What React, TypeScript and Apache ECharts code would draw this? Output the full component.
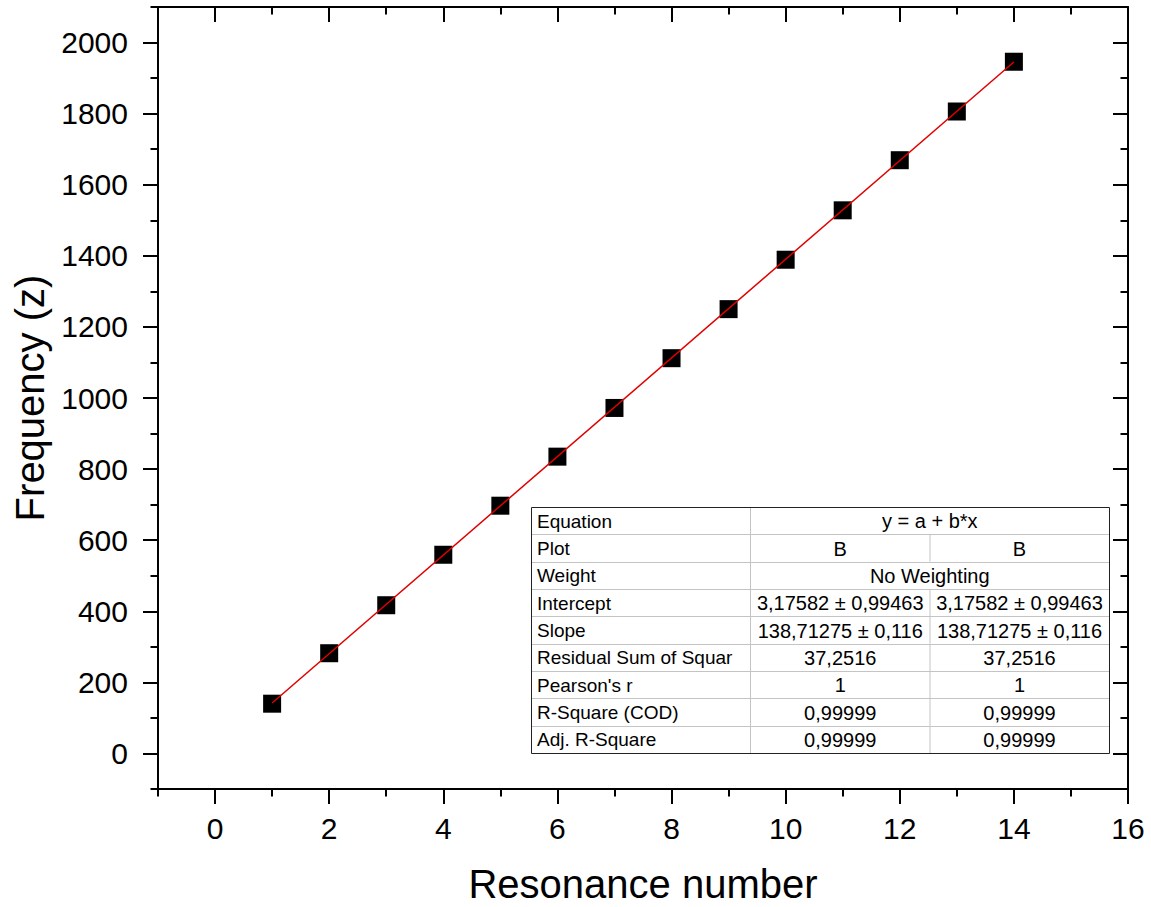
import React, { useEffect, useRef } from "react";
import * as echarts from "echarts";

const resonanceNumbers = [1, 2, 3, 4, 5, 6, 7, 8, 9, 10, 11, 12, 13, 14];
const frequencies = [140, 282, 417, 559, 697, 835, 972, 1112, 1250, 1389, 1528, 1669, 1806, 1946];
const fitLineX = [1, 14];
const fitLineY = [141.9, 1945.2];

const xMajorTicks = [0, 2, 4, 6, 8, 10, 12, 14, 16];
const xMinorTicks = [-1, 1, 3, 5, 7, 9, 11, 13, 15];
const yMajorTicks = [0, 200, 400, 600, 800, 1000, 1200, 1400, 1600, 1800, 2000];
const yMinorTicks = [-100, 100, 300, 500, 700, 900, 1100, 1300, 1500, 1700, 1900, 2100];

const tableLabels = [
  "Equation",
  "Plot",
  "Weight",
  "Intercept",
  "Slope",
  "Residual Sum of Squar",
  "Pearson's r",
  "R-Square (COD)",
  "Adj. R-Square",
];
const tableCol1 = [
  "y = a + b*x",
  "B",
  "No Weighting",
  "3,17582 ± 0,99463",
  "138,71275 ± 0,116",
  "37,2516",
  "1",
  "0,99999",
  "0,99999",
];
const tableCol2 = [
  null,
  "B",
  null,
  "3,17582 ± 0,99463",
  "138,71275 ± 0,116",
  "37,2516",
  "1",
  "0,99999",
  "0,99999",
];

const FONT = 'Arial, "Liberation Sans", sans-serif';

export default function App() {
  const ref = useRef<HTMLDivElement>(null);

  useEffect(() => {
    if (!ref.current) return;
    const chart = echarts.init(ref.current, null, { renderer: "svg" });

    const xBase = { type: "value", min: -1, max: 16, splitLine: { show: false } };
    const yBase = { type: "value", min: -100, max: 2100, splitLine: { show: false } };
    const lineStyle = { color: "#000", width: 2 };

    const mkAxis = (base: any, position: string, ticks: number[], inside: boolean, length: number, showLine: boolean, labels: boolean, extra: any = {}) => ({
      ...base,
      position,
      axisLine: { show: showLine, onZero: false, lineStyle },
      axisTick: { show: true, inside, length, lineStyle, customValues: ticks },
      axisLabel: labels
        ? {
            show: true,
            customValues: ticks,
            fontSize: 30,
            color: "#000",
            fontFamily: FONT,
            margin: position === "bottom" ? 24 : 30,
            formatter: (v: number) => String(v),
          }
        : { show: false },
      ...extra,
    });

    // table graphic
    const tLeft = 531, tTop = 507, tRight = 1109, tBottom = 753;
    const colX = [531, 750.5, 930, 1109];
    const rowH = (tBottom - tTop) / tableLabels.length;
    const labelFont = `19px ${FONT}`;
    const valueFont = `20px ${FONT}`;
    const children: any[] = [];
    children.push({ type: "rect", shape: { x: tLeft, y: tTop, width: tRight - tLeft, height: tBottom - tTop }, style: { fill: "#fff", stroke: null } });
    for (let i = 1; i < tableLabels.length; i++) {
      const y = Math.round(tTop + i * rowH) + 0.5;
      children.push({ type: "line", shape: { x1: tLeft, y1: y, x2: tRight, y2: y }, style: { stroke: "#c4c4c4", lineWidth: 1 } });
    }
    children.push({ type: "line", shape: { x1: colX[1], y1: tTop, x2: colX[1], y2: tBottom }, style: { stroke: "#c4c4c4", lineWidth: 1 } });
    tableLabels.forEach((lab, i) => {
      const cy = tTop + (i + 0.5) * rowH + 0.5;
      children.push({ type: "text", x: tLeft + 6, y: cy, style: { text: lab, font: labelFont, fill: "#000", verticalAlign: "middle", align: "left" } });
      if (tableCol2[i] === null) {
        children.push({ type: "text", x: (colX[1] + colX[3]) / 2, y: cy, style: { text: tableCol1[i], font: valueFont, fill: "#000", verticalAlign: "middle", align: "center" } });
      } else {
        children.push({ type: "line", shape: { x1: colX[2], y1: tTop + i * rowH, x2: colX[2], y2: tTop + (i + 1) * rowH }, style: { stroke: "#c4c4c4", lineWidth: 1 } });
        children.push({ type: "text", x: (colX[1] + colX[2]) / 2, y: cy, style: { text: tableCol1[i], font: valueFont, fill: "#000", verticalAlign: "middle", align: "center" } });
        children.push({ type: "text", x: (colX[2] + colX[3]) / 2, y: cy, style: { text: tableCol2[i], font: valueFont, fill: "#000", verticalAlign: "middle", align: "center" } });
      }
    });
    children.push({ type: "rect", shape: { x: tLeft + 0.5, y: tTop + 0.5, width: tRight - tLeft, height: tBottom - tTop }, style: { fill: "none", stroke: "#222", lineWidth: 1 } });

    chart.setOption({
      animation: false,
      backgroundColor: "#fff",
      grid: { left: 158, right: 23, top: 7, bottom: 118, containLabel: false, outerBoundsMode: "none" },
      xAxis: [
        mkAxis(xBase, "bottom", xMajorTicks, false, 15, true, true, {
          name: "Resonance number",
          nameLocation: "middle",
          nameGap: 75,
          nameTextStyle: { fontSize: 40, color: "#000", fontFamily: FONT },
        }),
        mkAxis(xBase, "bottom", xMinorTicks, false, 7.5, false, false),
        mkAxis(xBase, "top", xMajorTicks, true, 15, true, false),
        mkAxis(xBase, "top", xMinorTicks, true, 7.5, false, false),
      ],
      yAxis: [
        mkAxis(yBase, "left", yMajorTicks, false, 15, true, true, {
          name: "Frequency (z)",
          nameLocation: "middle",
          nameGap: 99,
          nameTextStyle: { fontSize: 40, color: "#000", fontFamily: FONT },
        }),
        mkAxis(yBase, "left", yMinorTicks, false, 7.5, false, false),
        mkAxis(yBase, "right", yMajorTicks, true, 15, true, false),
        mkAxis(yBase, "right", yMinorTicks, true, 7.5, false, false),
      ],
      series: [
        {
          type: "scatter",
          xAxisIndex: 0,
          yAxisIndex: 0,
          symbol: "rect",
          symbolSize: 18,
          itemStyle: { color: "#000", opacity: 1 },
          data: resonanceNumbers.map((x, i) => [x, frequencies[i]]),
          z: 2,
        },
        {
          type: "line",
          xAxisIndex: 0,
          yAxisIndex: 0,
          symbol: "none",
          lineStyle: { color: "#e00000", width: 1.5 },
          data: fitLineX.map((x, i) => [x, fitLineY[i]]),
          z: 3,
        },
      ],
      graphic: { elements: [{ type: "group", children, z: 10 }] },
    });

    return () => chart.dispose();
  }, []);

  return <div ref={ref} style={{ position: "absolute", left: 0, top: 0, width: 1151, height: 907 }} />;
}
